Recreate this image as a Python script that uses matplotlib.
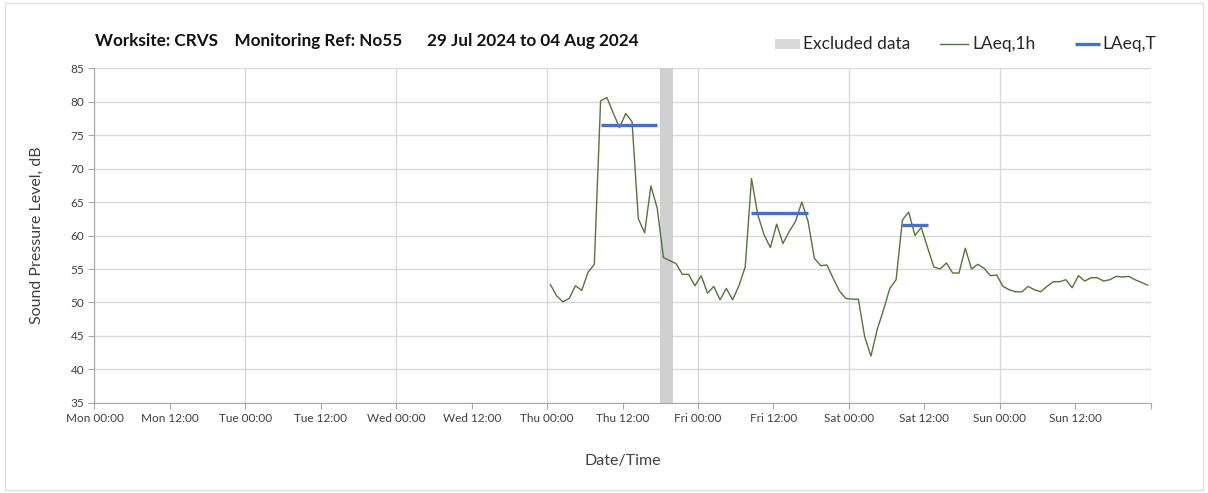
import pandas as pd
import numpy as np
import matplotlib
matplotlib.use("Agg")
import matplotlib.pyplot as plt
import matplotlib.dates as mdates
from matplotlib.patches import Rectangle
from matplotlib.lines import Line2D

plt.rcParams["font.family"] = ["Lato", "DejaVu Sans"]

# Hourly LAeq,1h from Thu 00:30, None = excluded hour
laeq_1h_start = "2024-08-01 00:30"
laeq_1h = [
    52.7, 51.0, 50.1, 50.6, 52.5, 51.8, 54.5, 55.7, 80.1, 80.6, 78.3, 76.1,
    78.2, 77.0, 62.5, 60.4, 67.4, 64.1, 56.7, None, 55.8, 54.2, 54.2, 52.5,
    54.0, 51.4, 52.4, 50.4, 52.1, 50.4, 52.5, 55.3, 68.5, 63.1, 60.1, 58.2,
    61.7, 58.8, 60.6, 62.1, 65.0, 62.1, 56.6, 55.5, 55.6, 53.6, 51.7, 50.6,
    50.5, 50.5, 44.9, 42.0, 46.0, 48.9, 52.1, 53.4, 62.3, 63.5, 60.0, 61.2,
    58.2, 55.3, 55.0, 55.9, 54.4, 54.4, 58.1, 55.0, 55.7, 55.1, 54.0, 54.1,
    52.4, 51.9, 51.6, 51.6, 52.4, 51.9, 51.6, 52.4, 53.1, 53.1, 53.4, 52.2,
    54.0, 53.2, 53.7, 53.7, 53.2, 53.4, 53.9, 53.8, 53.9, 53.4, 53.0, 52.6,
]

# LAeq,T periods
laeq_t_start = ["2024-08-01 08:30", "2024-08-02 08:30", "2024-08-03 08:30"]
laeq_t_end   = ["2024-08-01 17:30", "2024-08-02 17:30", "2024-08-03 12:30"]
laeq_t       = [76.5, 63.3, 61.5]

excluded_start = ["2024-08-01 18:00"]
excluded_end   = ["2024-08-01 20:00"]

week_start = "2024-07-29 00:00"
week_end   = "2024-08-05 00:00"
title_text = "Worksite: CRVS    Monitoring Ref: No55      29 Jul 2024 to 04 Aug 2024"
legend_labels = ["Excluded data", "LAeq,1h", "LAeq,T"]

line_col  = "#57733f"
blue_col  = "#4472c4"
grid_col  = "#d9d9d9"
excl_col  = "#d0d0d0"
text_col  = "#404040"

W, H = 1208, 493
fig = plt.figure(figsize=(W / 100, H / 100), dpi=100)
ax = fig.add_axes([0.0782, 0.1826, 0.8744, 0.6794])

# light frame round the whole figure
fig.patches.append(Rectangle((0.004, 0.006), 0.992, 0.988, transform=fig.transFigure,
                             fill=False, edgecolor="#e0e0e0", linewidth=1))

times = pd.date_range(laeq_1h_start, periods=len(laeq_1h), freq="h")
df = pd.DataFrame({"t": times, "v": laeq_1h}).dropna()

for s, e in zip(excluded_start, excluded_end):
    ax.axvspan(pd.Timestamp(s), pd.Timestamp(e), color=excl_col, zorder=1, linewidth=0)

ax.plot(df["t"], df["v"].astype(float), color=line_col, linewidth=1.0, zorder=3)

for s, e, v in zip(laeq_t_start, laeq_t_end, laeq_t):
    ax.plot([pd.Timestamp(s), pd.Timestamp(e)], [v, v], color=blue_col, linewidth=2.4,
            solid_capstyle="butt", zorder=4)

ax.set_xlim(pd.Timestamp(week_start), pd.Timestamp(week_end))
ax.set_ylim(35, 85)
ax.set_yticks(np.arange(35, 86, 5))

ax.xaxis.set_major_locator(mdates.HourLocator(byhour=[0, 12]))
ax.xaxis.set_major_formatter(mdates.DateFormatter("%a %H:%M"))

# vertical grid only at midnight
for d in pd.date_range(week_start, week_end, freq="D"):
    ax.axvline(d, color=grid_col, linewidth=1, zorder=0)
ax.yaxis.grid(True, color=grid_col, linewidth=1, zorder=0)
ax.set_axisbelow(True)

for side in ["top", "right"]:
    ax.spines[side].set_visible(False)
for side in ["left", "bottom"]:
    ax.spines[side].set_color("#a6a6a6")

ax.tick_params(axis="both", colors="#a6a6a6", labelcolor=text_col, labelsize=8.5, length=4)
ax.set_xticks(ax.get_xticks())
xt = ax.get_xticklabels()
# hide the label at the right end (next Monday)
ax.set_xticklabels([l.get_text() if i < len(xt) - 1 else "" for i, l in enumerate(xt)])

ax.set_ylabel("Sound Pressure Level, dB", fontsize=11.5, color=text_col, labelpad=19)
ax.set_xlabel("Date/Time", fontsize=11.5, color=text_col, labelpad=21)

fig.text(0.0786, 0.917, title_text, fontsize=12.3, fontweight="bold", ha="left", va="center",
         color="#111111")

# legend laid out by hand, pixel positions along the top row
ly = 1 - 44 / H
fig.patches.append(Rectangle((775 / W, 1 - 49 / H), 25 / W, 10 / H, transform=fig.transFigure,
                             facecolor="#d9d9d9", edgecolor="none"))
fig.add_artist(Line2D([940 / W, 968 / W], [ly, ly], transform=fig.transFigure,
                      color=line_col, linewidth=1.0))
fig.add_artist(Line2D([1075 / W, 1100 / W], [ly, ly], transform=fig.transFigure,
                      color=blue_col, linewidth=2.4, solid_capstyle="butt"))
for x, lab in zip([803, 972, 1102], legend_labels):
    fig.text(x / W, ly, lab, fontsize=12.5, ha="left", va="center", color="#262626")

fig.savefig("out.png", dpi=100)
